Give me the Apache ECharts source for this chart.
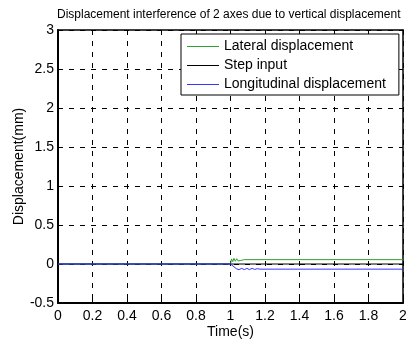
<!DOCTYPE html>
<html>
<head>
<meta charset="utf-8">
<script src="https://cdn.jsdelivr.net/npm/echarts@6/dist/echarts.min.js"></script>
<style>
  html, body { margin: 0; padding: 0; background: #fff; }
  #chart { width: 406px; height: 340px; }
</style>
</head>
<body>
<div id="chart"></div>
<script>
// values
const xTicks = [0, 0.2, 0.4, 0.6, 0.8, 1, 1.2, 1.4, 1.6, 1.8, 2]
const yTicks = [-0.5, 0, 0.5, 1, 1.5, 2, 2.5, 3]

const lateralT = [0, 1.0, 1.006, 1.013, 1.02, 1.028, 1.036, 1.044, 1.052, 1.06, 1.07, 1.08, 2.0]
const lateralY = [0, 0, 0.065, 0.03, 0.072, 0.035, 0.068, 0.04, 0.064, 0.045, 0.06, 0.056, 0.056]

const stepT = [0, 2.0]
const stepY = [0, 0]

const longT = [0, 1.0, 1.035, 1.05, 1.065, 1.08, 1.095, 1.11, 1.125, 1.14, 1.155, 1.17, 2.0]
const longY = [0, 0, -0.062, -0.072, -0.056, -0.072, -0.056, -0.072, -0.056, -0.07, -0.06, -0.066, -0.066]

const font = 'Liberation Sans, Arial, sans-serif'

function pairs(t, y) {
  return t.map((v, i) => [v, y[i]])
}

const chart = echarts.init(document.getElementById('chart'), null, { renderer: 'canvas' })

const tickStyle = { show: true, inside: true, length: 4, lineStyle: { color: '#000' } }
const gridLine = { show: true, lineStyle: { color: '#000', type: [5, 6], width: 1 } }

const option = {
  animation: false,
  backgroundColor: '#fff',
  title: {
    text: 'Displacement interference of 2 axes due to vertical displacement',
    left: 57,
    top: 9,
    padding: 0,
    textStyle: { fontFamily: font, fontSize: 12, fontWeight: 'normal', color: '#000' }
  },
  grid: { left: 58, right: 3, top: 30, bottom: 37, outerBoundsMode: 'none' },
  legend: {
    orient: 'vertical',
    left: 181,
    top: 34,
    padding: [5, 13, 3, 6],
    itemGap: 4,
    itemWidth: 32,
    itemHeight: 1,
    icon: 'rect',
    borderColor: '#000',
    borderWidth: 1,
    backgroundColor: '#fff',
    textStyle: { fontFamily: font, fontSize: 14, color: '#000', lineHeight: 15 },
    data: ['Lateral displacement', 'Step input', 'Longitudinal displacement']
  },
  xAxis: [
    {
      type: 'value',
      min: 0,
      max: 2,
      interval: 0.2,
      name: 'Time(s)',
      nameLocation: 'middle',
      nameGap: 22,
      nameMoveOverlap: false,
      nameTextStyle: { fontFamily: font, fontSize: 14, color: '#000' },
      axisLine: { show: true, onZero: false, lineStyle: { color: '#000', width: 2 } },
      axisTick: tickStyle,
      axisLabel: {
        margin: 6,
        fontFamily: font,
        fontSize: 14,
        color: '#000',
        formatter: v => String(Math.round(v * 10) / 10)
      },
      splitLine: gridLine
    },
    {
      type: 'value',
      position: 'top',
      min: 0,
      max: 2,
      interval: 0.2,
      axisLine: { show: true, onZero: false, lineStyle: { color: '#000', width: 1.5 } },
      axisTick: tickStyle,
      axisLabel: { show: false },
      splitLine: { show: false }
    }
  ],
  yAxis: [
    {
      type: 'value',
      min: -0.5,
      max: 3,
      interval: 0.5,
      name: 'Displacement(mm)',
      nameLocation: 'middle',
      nameGap: 32,
      nameMoveOverlap: false,
      nameTextStyle: { fontFamily: font, fontSize: 14, color: '#000' },
      axisLine: { show: true, onZero: false, lineStyle: { color: '#000', width: 2 } },
      axisTick: tickStyle,
      axisLabel: { margin: 4, fontFamily: font, fontSize: 14, color: '#000' },
      splitLine: gridLine
    },
    {
      type: 'value',
      position: 'right',
      min: -0.5,
      max: 3,
      interval: 0.5,
      axisLine: { show: true, onZero: false, lineStyle: { color: '#000', width: 1.5 } },
      axisTick: tickStyle,
      axisLabel: { show: false },
      splitLine: { show: false }
    }
  ],
  series: [
    {
      name: 'Lateral displacement',
      type: 'line',
      showSymbol: false,
      itemStyle: { color: '#2f9f2f' },
      lineStyle: { color: '#2f9f2f', width: 1 },
      data: pairs(lateralT, lateralY)
    },
    {
      name: 'Step input',
      type: 'line',
      showSymbol: false,
      itemStyle: { color: '#000' },
      lineStyle: { color: '#000', width: 1 },
      data: pairs(stepT, stepY)
    },
    {
      name: 'Longitudinal displacement',
      type: 'line',
      showSymbol: false,
      itemStyle: { color: '#3535ff' },
      lineStyle: { color: '#3535ff', width: 1 },
      data: pairs(longT, longY)
    }
  ]
}

chart.setOption(option)
</script>
</body>
</html>
